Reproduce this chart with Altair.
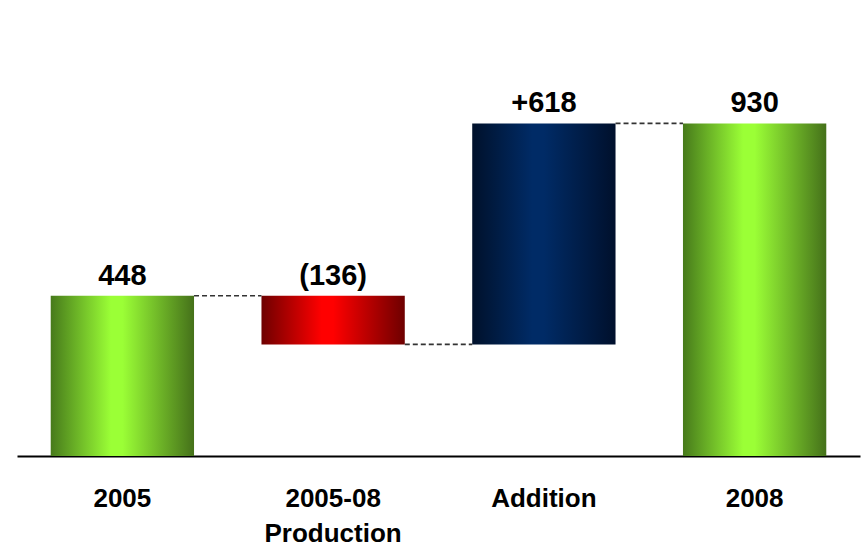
import altair as alt
import pandas as pd

# ---- data ----
categories = ["2005", "2005-08 Production", "Addition", "2008"]
bar_low = [0, 312, 312, 0]
bar_high = [448, 448, 930, 930]
value_labels = ["448", "(136)", "+618", "930"]
kinds = ["total", "decrease", "increase", "total"]

conn_from = ["2005", "2005-08 Production", "Addition"]
conn_to = ["2005-08 Production", "Addition", "2008"]
conn_level = [448, 312, 930]

bars = pd.DataFrame({"category": categories, "low": bar_low, "high": bar_high,
                     "label": value_labels, "kind": kinds})
conns = pd.DataFrame({"from": conn_from, "to": conn_to, "level": conn_level})

font = "Liberation Sans"

xscale = alt.Scale(domain=categories, paddingInner=0.32, paddingOuter=0.16)
yscale = alt.Scale(domain=[0, 1275], nice=False, zero=True)

xaxis = alt.Axis(title=None, orient="bottom", domainColor="black", domainWidth=2,
                 ticks=False, labelAngle=0, labelFont=font, labelFontWeight="bold",
                 labelFontSize=26, labelColor="black", labelPadding=29,
                 labelLineHeight=35, labelExpr="split(datum.label, ' ')",
                 labelLimit=0, labelOverlap=False, labelFlush=False, grid=False)


def grad(edge_l, center, edge_r):
    return alt.LinearGradient(
        gradient="linear", x1=0, x2=1, y1=0, y2=0,
        stops=[alt.GradientStop(color=edge_l, offset=0),
               alt.GradientStop(color=center, offset=0.42),
               alt.GradientStop(color=center, offset=0.5),
               alt.GradientStop(color=edge_r, offset=1)])


base = alt.Chart(bars)

rules = alt.Chart(conns).mark_rule(color="#333333", strokeWidth=1.6, strokeDash=[5, 3]).encode(
    x=alt.X("from:N", scale=xscale, axis=xaxis, bandPosition=1),
    x2=alt.X2("to:N", bandPosition=0),
    y=alt.Y("level:Q", scale=yscale, axis=None),
)


def bar_layer(kind, color):
    return base.transform_filter(alt.datum.kind == kind).mark_bar(color=color).encode(
        x=alt.X("category:N", scale=xscale, axis=xaxis),
        y=alt.Y("low:Q", scale=yscale, axis=None),
        y2="high:Q",
    )


green = bar_layer("total", grad("#477a1b", "#9bff36", "#45711a"))
red = bar_layer("decrease", grad("#6e0000", "#ff0000", "#6e0000"))
navy = bar_layer("increase", grad("#00112b", "#002b66", "#00102c"))

labels = base.mark_text(font=font, fontWeight="bold", fontSize=29, color="black",
                        baseline="alphabetic", dy=-11).encode(
    x=alt.X("category:N", scale=xscale, axis=xaxis),
    y=alt.Y("high:Q", scale=yscale, axis=None),
    text="label:N",
)

chart = alt.layer(rules, green, red, navy, labels).properties(
    width=843, height=456,
    padding={"left": 17, "top": 0, "right": 4, "bottom": 92},
    autosize=alt.AutoSizeParams(type="none"),
    background="white",
).configure_view(stroke=None, strokeWidth=0)

chart.save("out.html", embed_options={"renderer": "svg", "actions": False})
